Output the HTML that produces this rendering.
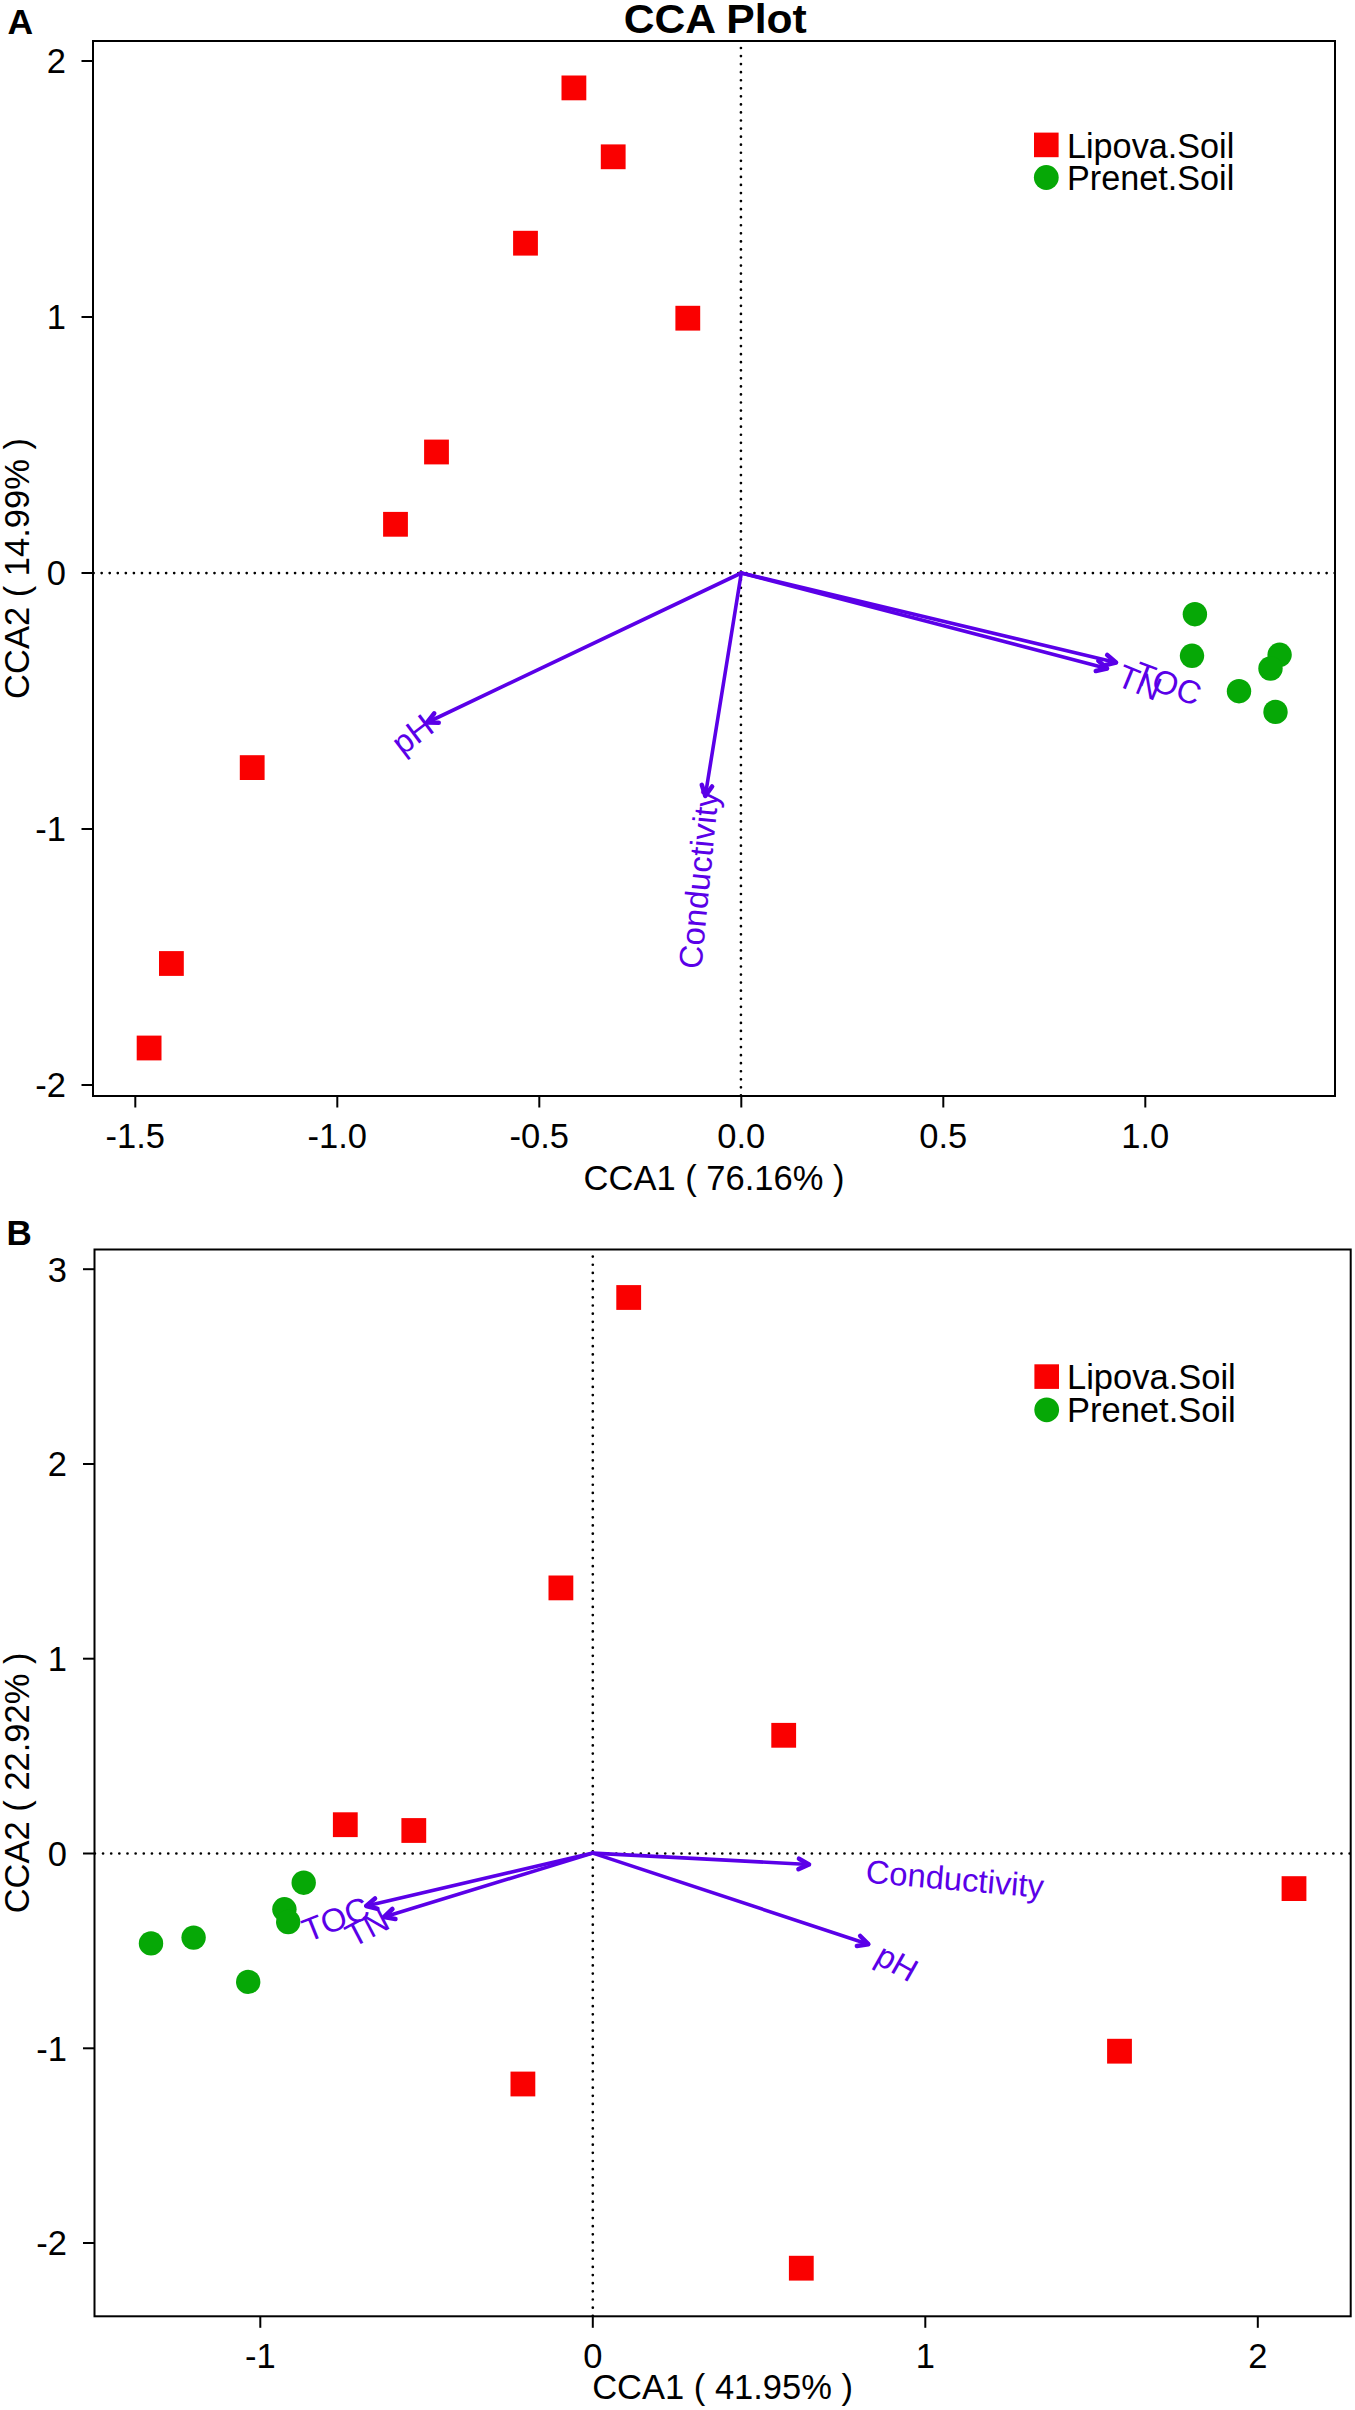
<!DOCTYPE html>
<html><head><meta charset="utf-8"><style>
html,body{margin:0;padding:0;background:#fff;}
svg{display:block;font-family:"Liberation Sans",sans-serif;}
</style></head><body>
<svg width="1355" height="2410" viewBox="0 0 1355 2410">
<rect width="1355" height="2410" fill="#fff"/>
<text x="7.4" y="33.5" font-size="35.5" font-weight="bold">A</text>
<text transform="translate(715.2,33.1) scale(1.04,1)" font-size="41" font-weight="bold" text-anchor="middle">CCA Plot</text>
<g stroke="#000" stroke-width="2.7" stroke-linecap="round" fill="none">
<line x1="93.60" y1="573.06" x2="1335.20" y2="573.06" stroke-dasharray="0.01 8.0490"/>
<line x1="740.94" y1="48.00" x2="740.94" y2="1095.90" stroke-dasharray="0.01 8.0470"/>
</g>
<g stroke="#000" stroke-width="2" fill="none">
<rect x="93" y="41" width="1242" height="1055"/>
<line x1="135.3" y1="1096" x2="135.3" y2="1107.5"/>
<line x1="337.3" y1="1096" x2="337.3" y2="1107.5"/>
<line x1="539.3" y1="1096" x2="539.3" y2="1107.5"/>
<line x1="741.3" y1="1096" x2="741.3" y2="1107.5"/>
<line x1="943.3" y1="1096" x2="943.3" y2="1107.5"/>
<line x1="1145.3" y1="1096" x2="1145.3" y2="1107.5"/>
<line x1="81.5" y1="61.0" x2="93" y2="61.0"/>
<line x1="81.5" y1="317.0" x2="93" y2="317.0"/>
<line x1="81.5" y1="573.0" x2="93" y2="573.0"/>
<line x1="81.5" y1="829.0" x2="93" y2="829.0"/>
<line x1="81.5" y1="1085.0" x2="93" y2="1085.0"/>
</g>
<g font-size="34.5" fill="#000">
<text x="135.3" y="1147.5" text-anchor="middle">-1.5</text>
<text x="337.3" y="1147.5" text-anchor="middle">-1.0</text>
<text x="539.3" y="1147.5" text-anchor="middle">-0.5</text>
<text x="741.3" y="1147.5" text-anchor="middle">0.0</text>
<text x="943.3" y="1147.5" text-anchor="middle">0.5</text>
<text x="1145.3" y="1147.5" text-anchor="middle">1.0</text>
<text x="66" y="73.3" text-anchor="end">2</text>
<text x="66" y="329.3" text-anchor="end">1</text>
<text x="66" y="585.3" text-anchor="end">0</text>
<text x="66" y="841.3" text-anchor="end">-1</text>
<text x="66" y="1097.3" text-anchor="end">-2</text>
<text x="714.0" y="1189.7" text-anchor="middle">CCA1 ( 76.16% )</text>
<text transform="translate(29.3,568.5) rotate(-90)" text-anchor="middle">CCA2 ( 14.99% )</text>
</g>
<rect x="561.5" y="75.5" width="24.8" height="24.8" fill="#fa0000"/>
<rect x="600.8" y="144.4" width="24.8" height="24.8" fill="#fa0000"/>
<rect x="513.1" y="230.8" width="24.8" height="24.8" fill="#fa0000"/>
<rect x="675.4" y="305.8" width="24.8" height="24.8" fill="#fa0000"/>
<rect x="424.1" y="439.6" width="24.8" height="24.8" fill="#fa0000"/>
<rect x="383.1" y="511.9" width="24.8" height="24.8" fill="#fa0000"/>
<rect x="239.8" y="755.2" width="24.8" height="24.8" fill="#fa0000"/>
<rect x="159.0" y="951.1" width="24.8" height="24.8" fill="#fa0000"/>
<rect x="136.7" y="1035.6" width="24.8" height="24.8" fill="#fa0000"/>
<circle cx="1194.9" cy="614.2" r="12.2" fill="#06a806"/>
<circle cx="1192.0" cy="655.8" r="12.2" fill="#06a806"/>
<circle cx="1279.6" cy="654.8" r="12.2" fill="#06a806"/>
<circle cx="1270.5" cy="668.5" r="12.2" fill="#06a806"/>
<circle cx="1239.0" cy="691.2" r="12.2" fill="#06a806"/>
<circle cx="1275.5" cy="711.9" r="12.2" fill="#06a806"/>
<g stroke="#5a00e8" stroke-width="3.6" stroke-linecap="round" stroke-linejoin="round">
<line x1="741.3" y1="573.0" x2="427.2" y2="722.5"/>
<polyline stroke-width="4.6" points="438.7,722.8 427.2,722.5 434.2,713.4" fill="none"/>
<line x1="741.3" y1="573.0" x2="705.3" y2="795.8"/>
<polyline stroke-width="4.6" points="712.1,786.5 705.3,795.8 701.8,784.9" fill="none"/>
<line x1="741.3" y1="573.0" x2="1116.0" y2="662.5"/>
<polyline stroke-width="4.6" points="1107.2,655.0 1116.0,662.5 1104.8,665.2" fill="none"/>
<line x1="741.3" y1="573.0" x2="1107.0" y2="668.4"/>
<polyline stroke-width="4.6" points="1098.4,660.8 1107.0,668.4 1095.8,670.9" fill="none"/>
</g>
<g font-size="32.8" fill="#5a00e8">
<text transform="translate(1131.6,682.2) rotate(20.6)" text-anchor="start">TOC</text>
<text transform="translate(1114.9,684.7) rotate(22.4)" text-anchor="start">TN</text>
<text transform="translate(402.5,756.0) rotate(-36.9)" text-anchor="start">pH</text>
<text transform="translate(701.2,969.7) rotate(-84.4)" text-anchor="start">Conductivity</text>
</g>
<rect x="1034.0" y="132.6" width="24.6" height="24.6" fill="#fa0000"/>
<circle cx="1046.3" cy="177.5" r="12.4" fill="#06a806"/>
<g font-size="34.2"><text x="1067" y="157.5">Lipova.Soil</text><text x="1067" y="190">Prenet.Soil</text></g>
<text x="6.5" y="1244.9" font-size="35" font-weight="bold">B</text>
<g stroke="#000" stroke-width="2.7" stroke-linecap="round" fill="none">
<line x1="94.90" y1="1853.50" x2="1350.10" y2="1853.50" stroke-dasharray="0.01 8.1376"/>
<line x1="592.80" y1="1256.60" x2="592.80" y2="2316.30" stroke-dasharray="0.01 8.1376"/>
</g>
<g stroke="#000" stroke-width="2" fill="none">
<rect x="94.5" y="1249.5" width="1256.2" height="1066.8000000000002"/>
<line x1="260.3" y1="2316.3" x2="260.3" y2="2327.8"/>
<line x1="592.8" y1="2316.3" x2="592.8" y2="2327.8"/>
<line x1="925.3" y1="2316.3" x2="925.3" y2="2327.8"/>
<line x1="1257.8" y1="2316.3" x2="1257.8" y2="2327.8"/>
<line x1="83.0" y1="1269.2" x2="94.5" y2="1269.2"/>
<line x1="83.0" y1="1464.0" x2="94.5" y2="1464.0"/>
<line x1="83.0" y1="1658.7" x2="94.5" y2="1658.7"/>
<line x1="83.0" y1="1853.5" x2="94.5" y2="1853.5"/>
<line x1="83.0" y1="2048.3" x2="94.5" y2="2048.3"/>
<line x1="83.0" y1="2243.0" x2="94.5" y2="2243.0"/>
</g>
<g font-size="34.5" fill="#000">
<text x="260.3" y="2367.8" text-anchor="middle">-1</text>
<text x="592.8" y="2367.8" text-anchor="middle">0</text>
<text x="925.3" y="2367.8" text-anchor="middle">1</text>
<text x="1257.8" y="2367.8" text-anchor="middle">2</text>
<text x="67" y="1281.5" text-anchor="end">3</text>
<text x="67" y="1476.3" text-anchor="end">2</text>
<text x="67" y="1671.0" text-anchor="end">1</text>
<text x="67" y="1865.8" text-anchor="end">0</text>
<text x="67" y="2060.6" text-anchor="end">-1</text>
<text x="67" y="2255.3" text-anchor="end">-2</text>
<text x="722.6" y="2399.2" text-anchor="middle">CCA1 ( 41.95% )</text>
<text transform="translate(28.6,1782.9) rotate(-90)" text-anchor="middle">CCA2 ( 22.92% )</text>
</g>
<rect x="616.3" y="1285.1" width="24.8" height="24.8" fill="#fa0000"/>
<rect x="548.5" y="1575.5" width="24.8" height="24.8" fill="#fa0000"/>
<rect x="771.3" y="1722.9" width="24.8" height="24.8" fill="#fa0000"/>
<rect x="332.9" y="1812.3" width="24.8" height="24.8" fill="#fa0000"/>
<rect x="401.4" y="1818.1" width="24.8" height="24.8" fill="#fa0000"/>
<rect x="1281.6" y="1876.2" width="24.8" height="24.8" fill="#fa0000"/>
<rect x="1107.1" y="2038.8" width="24.8" height="24.8" fill="#fa0000"/>
<rect x="510.5" y="2071.6" width="24.8" height="24.8" fill="#fa0000"/>
<rect x="788.9" y="2255.8" width="24.8" height="24.8" fill="#fa0000"/>
<circle cx="303.7" cy="1882.7" r="12.2" fill="#06a806"/>
<circle cx="284.4" cy="1909.3" r="12.2" fill="#06a806"/>
<circle cx="288.2" cy="1922.0" r="12.2" fill="#06a806"/>
<circle cx="193.6" cy="1937.6" r="12.2" fill="#06a806"/>
<circle cx="151.0" cy="1943.4" r="12.2" fill="#06a806"/>
<circle cx="248.2" cy="1981.9" r="12.2" fill="#06a806"/>
<g stroke="#5a00e8" stroke-width="3.6" stroke-linecap="round" stroke-linejoin="round">
<line x1="592.8" y1="1853.1" x2="366.2" y2="1905.9"/>
<polyline stroke-width="4.6" points="377.4,1908.7 366.2,1905.9 375.0,1898.5" fill="none"/>
<line x1="592.8" y1="1853.1" x2="384.1" y2="1917.0"/>
<polyline stroke-width="4.6" points="395.4,1919.0 384.1,1917.0 392.4,1909.0" fill="none"/>
<line x1="592.8" y1="1853.1" x2="809.0" y2="1864.5"/>
<polyline stroke-width="4.6" points="799.0,1858.7 809.0,1864.5 798.5,1869.2" fill="none"/>
<line x1="592.8" y1="1853.1" x2="868.3" y2="1944.2"/>
<polyline stroke-width="4.6" points="860.2,1936.0 868.3,1944.2 856.9,1945.9" fill="none"/>
</g>
<g font-size="32.8" fill="#5a00e8">
<text transform="translate(307.9,1942.5) rotate(-21.8)" text-anchor="start">TOC</text>
<text transform="translate(353.1,1947.9) rotate(-27.6)" text-anchor="start">TN</text>
<text transform="translate(865.0,1882.4) rotate(5.0)" text-anchor="start">Conductivity</text>
<text transform="translate(873.2,1962.2) rotate(29.4)" text-anchor="start">pH</text>
</g>
<rect x="1034.4" y="1364.3" width="24.6" height="24.6" fill="#fa0000"/>
<circle cx="1046.7" cy="1409.8" r="12.4" fill="#06a806"/>
<g font-size="34.5"><text x="1067" y="1389">Lipova.Soil</text><text x="1067" y="1422.4">Prenet.Soil</text></g>
</svg>
</body></html>
